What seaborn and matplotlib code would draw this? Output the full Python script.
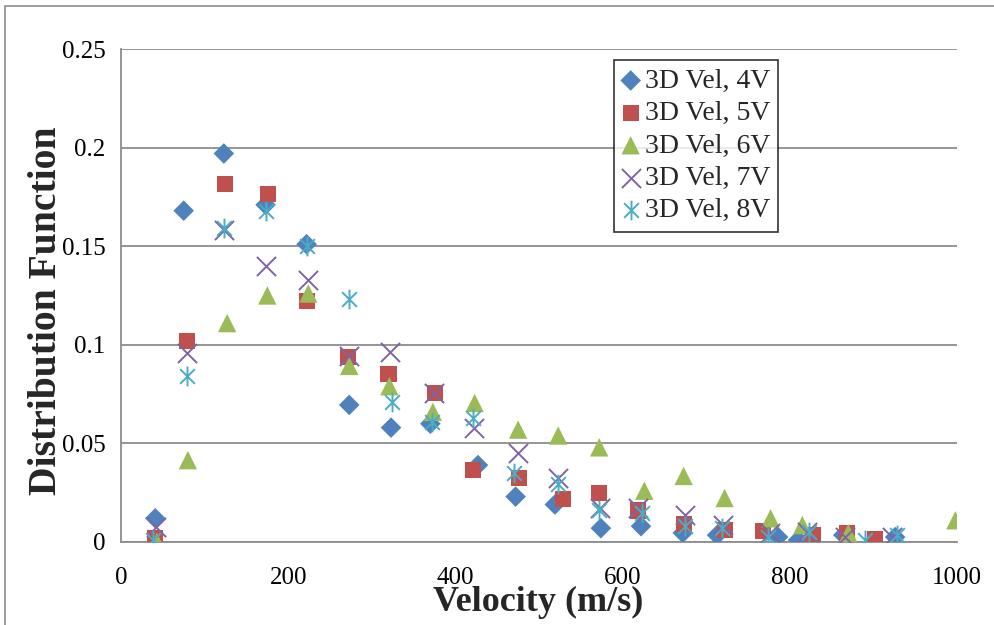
import numpy as np
import pandas as pd
import matplotlib
matplotlib.use("Agg")
import matplotlib.pyplot as plt
from matplotlib.path import Path
from matplotlib.patches import Rectangle
import seaborn as sns

# ---- data ----
series_names = ["3D Vel, 4V", "3D Vel, 5V", "3D Vel, 6V", "3D Vel, 7V", "3D Vel, 8V"]

vel_4v = [41, 75, 123, 173, 222, 273, 323, 370, 427, 472, 519, 574, 622, 672, 713, 786, 810, 864, 926]
dist_4v = [0.012, 0.168, 0.197, 0.171, 0.151, 0.0695, 0.058, 0.060, 0.039, 0.023, 0.019, 0.007, 0.008, 0.0046, 0.0035, 0.0025, 0.001, 0.0035, 0.0025]

vel_5v = [41, 79, 124, 176, 222, 272, 320, 376, 421, 476, 529, 572, 618, 673, 722, 768, 828, 868, 902]
dist_5v = [0.002, 0.102, 0.1815, 0.1765, 0.122, 0.094, 0.085, 0.0755, 0.0365, 0.0325, 0.022, 0.0248, 0.016, 0.009, 0.006, 0.0056, 0.0035, 0.0045, 0.0015]

vel_6v = [43, 80, 127, 175, 224, 273, 321, 373, 423, 475, 523, 572, 626, 673, 722, 777, 815, 870, 998]
dist_6v = [0.0, 0.0415, 0.111, 0.125, 0.126, 0.0893, 0.079, 0.066, 0.0705, 0.057, 0.054, 0.048, 0.026, 0.0335, 0.0223, 0.012, 0.0086, 0.0045, 0.011]

vel_7v = [42, 79, 123, 173, 224, 273, 322, 375, 422, 475, 523, 573, 618, 675, 720, 776, 820, 866, 922]
dist_7v = [0.0076, 0.096, 0.158, 0.140, 0.133, 0.0943, 0.0963, 0.0755, 0.058, 0.045, 0.0325, 0.017, 0.017, 0.0137, 0.0086, 0.0046, 0.005, 0.0025, 0.0025]

vel_8v = [38, 79, 123, 173, 222, 273, 324, 372, 421, 470, 523, 572, 623, 675, 719, 774, 823, 890, 928]
dist_8v = [0.001, 0.084, 0.159, 0.168, 0.150, 0.123, 0.071, 0.061, 0.063, 0.035, 0.0295, 0.016, 0.0146, 0.008, 0.007, 0.0025, 0.005, 0.001, 0.0035]

x_ticks = [0, 200, 400, 600, 800, 1000]
y_ticks = [0, 0.05, 0.1, 0.15, 0.2, 0.25]
y_tick_labels = ["0", "0.05", "0.1", "0.15", "0.2", "0.25"]

# ---- styling ----
sns.set_theme(style="white")
plt.rcParams["font.family"] = ["Liberation Serif", "DejaVu Serif"]

colors = ["#4F81BD", "#C0504D", "#9BBB59", "#8064A2", "#4BACC6"]

asterisk = Path(
    [(0, -1), (0, 1), (-0.75, -0.75), (0.75, 0.75), (-0.75, 0.75), (0.75, -0.75)],
    [Path.MOVETO, Path.LINETO, Path.MOVETO, Path.LINETO, Path.MOVETO, Path.LINETO],
)
markers = ["D", "s", "^", "x", asterisk]
sizes = [110, 135, 175, 190, 200]
kinds = ["filled", "filled", "filled", "line", "path"]

frames = []
for name, xs, ys in zip(series_names,
                        [vel_4v, vel_5v, vel_6v, vel_7v, vel_8v],
                        [dist_4v, dist_5v, dist_6v, dist_7v, dist_8v]):
    frames.append(pd.DataFrame({"velocity": xs, "dist": ys, "series": name}))
df = pd.concat(frames, ignore_index=True)

W, H = 995, 625
fig = plt.figure(figsize=(W / 100, H / 100), dpi=100)
ax = fig.add_axes([121 / W, 1 - 542 / H, (957 - 121) / W, (542 - 49) / H])

grid_col = "#8c8c8c"
handles = []
for i, name in enumerate(series_names):
    sub = df[df["series"] == name]
    kw = dict(x="velocity", y="dist", data=sub, ax=ax, marker=markers[i], s=sizes[i],
              zorder=3 + i, legend=False)
    if kinds[i] == "filled":
        sns.scatterplot(color=colors[i], edgecolor="none", linewidth=0, **kw)
    elif kinds[i] == "line":
        sns.scatterplot(color=colors[i], linewidth=1.4, **kw)
    else:
        sns.scatterplot(color=colors[i], edgecolor=colors[i], linewidth=1.4, **kw)
    handles.append(ax.collections[-1])

ax.set_xlim(0, 1000)
ax.set_ylim(0, 0.25)
ax.set_xticks(x_ticks)
ax.set_xticklabels([str(v) for v in x_ticks])
ax.set_yticks(y_ticks)
ax.set_yticklabels(y_tick_labels)

ax.yaxis.grid(True, color=grid_col, linewidth=1.3)
ax.xaxis.grid(False)
for side in ["top", "right"]:
    ax.spines[side].set_visible(False)
for side in ["left", "bottom"]:
    ax.spines[side].set_color(grid_col)
    ax.spines[side].set_linewidth(1.3)
ax.tick_params(axis="both", which="both", direction="out", length=6, width=1.3,
               color=grid_col, labelsize=18, labelcolor="black")
ax.tick_params(axis="x", pad=12)
ax.tick_params(axis="y", pad=5)
ax.set_xlabel("")
ax.set_ylabel("")
ax.set_axisbelow(True)

leg = ax.legend(handles, series_names, loc="upper left",
                bbox_to_anchor=((614 - 121) / 836, (542 - 60) / 493),
                borderaxespad=0, frameon=True, fancybox=False, edgecolor="black", fontsize=20,
                handlelength=0.6, handletextpad=0.2, labelspacing=0.25, borderpad=0.3)
leg.get_frame().set_linewidth(1.2)
leg.set_zorder(10)

fig.text(538 / W, 1 - 602 / H, "Velocity (m/s)", ha="center", va="center",
         fontsize=26, fontweight="bold", zorder=20)
fig.text(47 / W, 1 - 311 / H, "Distribution Function", ha="center", va="center",
         rotation=90, fontsize=28.5, fontweight="bold", zorder=20)

fig.patches.append(Rectangle((5 / W, -0.2), 1.2, 1.2 - 6 / H, transform=fig.transFigure,
                             fill=False, edgecolor="#8c8c8c", linewidth=1.2))

fig.savefig("out.png", dpi=100)
